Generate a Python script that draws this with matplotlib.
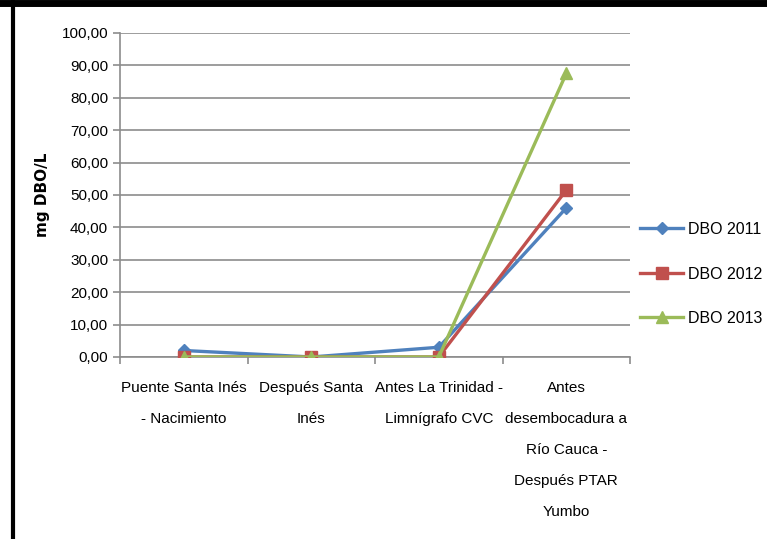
import numpy as np
import matplotlib.pyplot as plt
from matplotlib.lines import Line2D

plt.rcParams['font.family'] = ['Liberation Sans', 'DejaVu Sans']

categories = [
    "Puente Santa Inés\n- Nacimiento",
    "Después Santa\nInés",
    "Antes La Trinidad -\nLimnígrafo CVC",
    "Antes\ndesembocadura a\nRío Cauca -\nDespués PTAR\nYumbo",
]
series_names = ["DBO 2011", "DBO 2012", "DBO 2013"]
dbo_2011 = [2.0, 0.0, 3.0, 46.0]
dbo_2012 = [0.0, 0.0, 0.0, 51.5]
dbo_2013 = [0.0, 0.0, 0.0, 87.5]
y_ticks = [0, 10, 20, 30, 40, 50, 60, 70, 80, 90, 100]


def main():
    fig = plt.figure(figsize=(7.67, 5.39), dpi=100)
    ax = fig.add_axes([0.1565, 0.3377, 0.6649, 0.6011])

    colors = ["#4F81BD", "#C0504D", "#9BBB59"]
    markers = ["D", "s", "^"]
    msizes = [6, 8, 8]
    x = np.arange(len(categories))
    for vals, name, c, m, ms in zip([dbo_2011, dbo_2012, dbo_2013], series_names, colors, markers, msizes):
        ax.plot(x, vals, color=c, lw=2.4, marker=m, markersize=ms, label=name, zorder=3)

    ax.set_xlim(-0.5, len(categories) - 0.5)
    ax.set_ylim(0, 100)
    ax.set_yticks(y_ticks)
    ax.set_yticklabels([f"{v:.2f}".replace(".", ",") for v in y_ticks], fontsize=11)
    ax.yaxis.grid(True, color="#8C8C8C", lw=1.2)
    ax.set_axisbelow(True)

    ax.set_xticks(x)
    ax.set_xticklabels(categories, fontsize=11, linespacing=2.55)
    ax.tick_params(axis="x", length=0, pad=17)
    ax.set_xticks(np.arange(-0.5, len(categories)), minor=True)
    ax.tick_params(axis="x", which="minor", length=5, color="#8C8C8C", width=1.2)
    ax.tick_params(axis="y", length=5, color="#8C8C8C", width=1.2)

    for s in ["top", "right"]:
        ax.spines[s].set_visible(False)
    for s in ["left", "bottom"]:
        ax.spines[s].set_color("#8C8C8C")
        ax.spines[s].set_linewidth(1.2)

    fig.text(0.056, 0.638, "mg DBO/L", rotation=90, fontsize=11, fontweight="bold",
             ha="center", va="center", family=["DejaVu Sans"])

    ax.legend(loc="center left", bbox_to_anchor=(1.02, 0.256), frameon=False,
              fontsize=11.5, labelspacing=1.85, handlelength=2.7, handletextpad=0.3,
              borderpad=0, borderaxespad=0)

    # black frame on top and left
    fig.add_artist(Line2D([0.0, 1.0], [0.9945, 0.9945], color="black", lw=5, transform=fig.transFigure))
    fig.add_artist(Line2D([0.0165, 0.0165], [0.0, 1.0], color="black", lw=3, transform=fig.transFigure))

    fig.savefig("out.png", dpi=100)


if __name__ == "__main__":
    main()
